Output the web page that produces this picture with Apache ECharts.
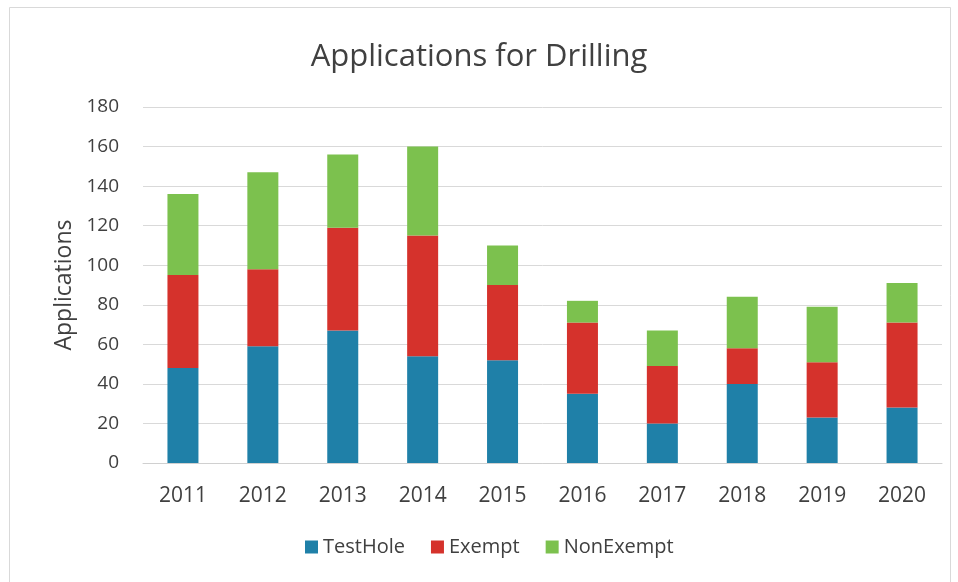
<!DOCTYPE html>
<html>
<head>
<meta charset="utf-8">
<script src="https://cdn.jsdelivr.net/npm/echarts@6/dist/echarts.min.js"></script>
<style>
  html, body { margin: 0; padding: 0; background: #ffffff; }
  #chart { width: 958px; height: 582px; }
</style>
</head>
<body>
<div id="chart"></div>
<script>
// Drilling applications per year, split by application type
const years = ['2011', '2012', '2013', '2014', '2015', '2016', '2017', '2018', '2019', '2020'];
const testHole  = [48, 59, 67, 54, 52, 35, 20, 40, 23, 28];
const exempt    = [47, 39, 52, 61, 38, 36, 29, 18, 28, 43];
const nonExempt = [41, 49, 37, 45, 20, 11, 18, 26, 28, 20];

const FONT = '"Open Sans", "Liberation Sans", sans-serif';
const TEXT = '#404040';

const chart = echarts.init(document.getElementById('chart'), null, { renderer: 'canvas' });

function barSeries(name, data, color) {
  return {
    name: name,
    type: 'bar',
    stack: 'total',
    data: data,
    barWidth: 31,
    itemStyle: { color: color },
    emphasis: { disabled: true }
  };
}

chart.setOption({
  backgroundColor: '#ffffff',
  animation: false,
  graphic: [{
    type: 'rect',
    shape: { x: 9.5, y: 7.5, width: 941, height: 580 },
    style: { fill: 'none', stroke: '#d9d9d9', lineWidth: 1 },
    silent: true
  }],
  title: {
    text: 'Applications for Drilling',
    left: 'center',
    top: 37,
    textStyle: { fontFamily: FONT, fontSize: 31, fontWeight: 'normal', color: TEXT }
  },
  legend: {
    bottom: 20,
    left: 300,
    itemWidth: 13,
    itemHeight: 13,
    itemGap: 26,
    icon: 'rect',
    textStyle: { fontFamily: FONT, fontSize: 20, color: TEXT },
    data: ['TestHole', 'Exempt', 'NonExempt']
  },
  grid: { left: 143, right: 16, top: 107, bottom: 119, containLabel: false },
  xAxis: {
    type: 'category',
    data: years,
    axisLine: { lineStyle: { color: '#d0d0d0', width: 1 } },
    axisTick: { show: false },
    axisLabel: { fontFamily: FONT, fontSize: 21, color: TEXT, margin: 23 }
  },
  yAxis: {
    type: 'value',
    min: 0,
    max: 180,
    interval: 20,
    name: 'Applications',
    nameLocation: 'middle',
    nameGap: 66,
    nameTextStyle: { fontFamily: FONT, fontSize: 23, color: TEXT },
    axisLine: { show: false },
    axisTick: { show: false },
    splitLine: { lineStyle: { color: '#d9d9d9', width: 1 } },
    axisLabel: { fontFamily: FONT, fontSize: 19, color: TEXT, margin: 24 }
  },
  series: [
    barSeries('TestHole', testHole, '#1f80a8'),
    barSeries('Exempt', exempt, '#d5322c'),
    barSeries('NonExempt', nonExempt, '#7cc14e')
  ]
});
</script>
</body>
</html>
